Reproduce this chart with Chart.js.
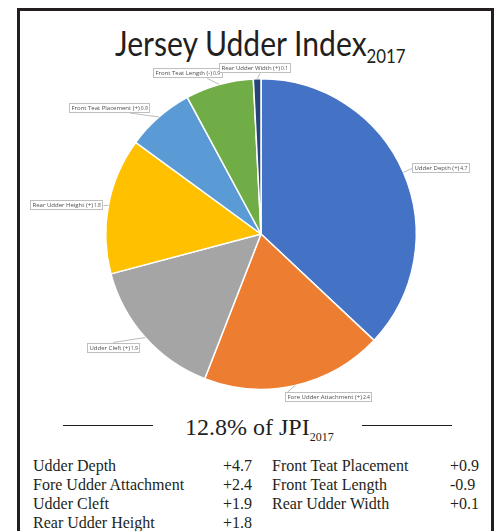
<!DOCTYPE html>
<html>
<head>
<meta charset="utf-8">
<script src="https://cdn.jsdelivr.net/npm/chart.js@4.4.1/dist/chart.umd.min.js"></script>
<style>
body { margin:0; background:#fff; width:495px; height:531px; overflow:hidden; position:relative; color:#231f20; }
#frame { position:absolute; left:17px; top:8px; width:477px; height:600px; border:3px solid #231f20; box-sizing:border-box; }
#title { position:absolute; left:115px; top:26px; font-family:Lato, sans-serif; font-size:34px; line-height:34px; white-space:nowrap; transform:scaleX(0.885); transform-origin:left top; }
#title span { font-size:19px; position:relative; top:7px; }
#share { position:absolute; left:185px; top:415px; font-family:'Liberation Serif', serif; font-size:24px; line-height:24px; white-space:nowrap; }
#share span { font-size:12px; position:relative; top:6px; }
.rule { position:absolute; top:425px; width:90px; border-top:1.5px solid #231f20; }
.cell { position:absolute; font-family:'Liberation Serif', serif; font-size:16px; line-height:19px; white-space:nowrap; }
#c { position:absolute; left:0; top:0; }
</style>
</head>
<body>
<div id="frame"></div>
<div id="title">Jersey Udder Index<span>2017</span></div>
<div class="rule" style="left:63px"></div>
<div class="rule" style="left:362px"></div>
<div id="share">12.8% of JPI<span>2017</span></div>
<div id="table"></div>
<canvas id="c" width="495" height="531"></canvas>
<script>
// trait names, sign of the breeding value and its size (pie uses size)
var traits = ['Udder Depth', 'Fore Udder Attachment', 'Udder Cleft', 'Rear Udder Height',
              'Front Teat Placement', 'Front Teat Length', 'Rear Udder Width'];
var signs = ['+', '+', '+', '+', '+', '-', '+'];
var values = [4.7, 2.4, 1.9, 1.8, 0.9, 0.9, 0.1];
var colors = ['#4472c4', '#ed7d31', '#a5a5a5', '#ffc000', '#5b9bd5', '#70ad47', '#264478'];

// where each callout box sits relative to the edge of its slice
// dx,dy: offset of the leader end; fx,fy: which point of the box the leader touches
var callouts = [
	{dx: 9, dy: -4, fx: 0, fy: 0.5},
	{dx: -8, dy: 7, fx: 0.03, fy: 0},
	{dx: -32, dy: 5, fx: 0.5, fy: 0},
	{dx: -5, dy: 0, fx: 1, fy: 0.5},
	{dx: -29, dy: -4, fx: 0.75, fy: 1},
	{dx: -12, dy: -6, fx: 0.77, fy: 1},
	{dx: 3, dy: -5.5, fx: 0.57, fy: 1}
];

// bottom table
var tbl = document.getElementById('table');
for (var i = 0; i < traits.length; i++) {
	var col = i < 4 ? 0 : 1;
	var row = i < 4 ? i : i - 4;
	var rowTop = 456 + row * 19;
	var nameDiv = document.createElement('div');
	nameDiv.className = 'cell';
	nameDiv.style.left = (col ? 272 : 33) + 'px';
	nameDiv.style.top = rowTop + 'px';
	nameDiv.textContent = traits[i];
	var valDiv = document.createElement('div');
	valDiv.className = 'cell';
	valDiv.style.left = (col ? 450 : 223) + 'px';
	valDiv.style.top = rowTop + 'px';
	valDiv.textContent = (signs[i] == '-' ? '-' : '+') + values[i].toFixed(1);
	tbl.appendChild(nameDiv);
	tbl.appendChild(valDiv);
}

var calloutPlugin = {
	id: 'callout',
	afterDatasetsDraw: function(chart) {
		var ctx = chart.ctx;
		var arcs = chart.getDatasetMeta(0).data;
		ctx.save();
		for (var i = 0; i < arcs.length; i++) {
			var p = arcs[i].getProps(['x', 'y', 'startAngle', 'endAngle', 'outerRadius']);
			var mid = (p.startAngle + p.endAngle) / 2;
			var px = p.x + Math.cos(mid) * p.outerRadius;
			var py = p.y + Math.sin(mid) * p.outerRadius;
			var o = callouts[i];
			var ax = px + o.dx, ay = py + o.dy;

			var t1 = traits[i] + ' (' + signs[i] + ')';
			var t2 = values[i].toFixed(1);
			ctx.font = '6px "Open Sans"';
			var w1 = ctx.measureText(t1).width;
			ctx.font = '5px "Open Sans"';
			var w2 = ctx.measureText(t2).width;
			var bw = Math.round(w1 + w2 + 6), bh = 10;
			var bx = Math.round(ax - o.fx * bw), by = Math.round(ay - o.fy * bh);

			ctx.strokeStyle = '#a6a6a6';
			ctx.lineWidth = 0.75;
			ctx.beginPath();
			ctx.moveTo(px, py);
			ctx.lineTo(ax, ay);
			ctx.stroke();

			ctx.fillStyle = '#fff';
			ctx.fillRect(bx, by, bw, bh);
			ctx.strokeStyle = '#bfbfbf';
			ctx.lineWidth = 1;
			ctx.strokeRect(bx + 0.5, by + 0.5, bw - 1, bh - 1);

			ctx.fillStyle = '#4d4d4d';
			ctx.textBaseline = 'middle';
			ctx.textAlign = 'left';
			ctx.font = '6px "Open Sans"';
			ctx.fillText(t1, bx + 2.5, by + bh / 2);
			ctx.font = '5px "Open Sans"';
			ctx.fillText(t2, bx + 3.5 + w1, by + bh / 2 + 0.3);
		}
		ctx.restore();
	}
};

new Chart(document.getElementById('c'), {
	type: 'pie',
	data: {
		labels: traits,
		datasets: [{
			data: values,
			backgroundColor: colors,
			borderColor: '#ffffff',
			borderWidth: 1.5
		}]
	},
	options: {
		responsive: false,
		animation: false,
		layout: { padding: { left: 105, right: 78, top: 78, bottom: 141 } },
		plugins: { legend: { display: false }, tooltip: { enabled: false } }
	},
	plugins: [calloutPlugin]
});
</script>
</body>
</html>
